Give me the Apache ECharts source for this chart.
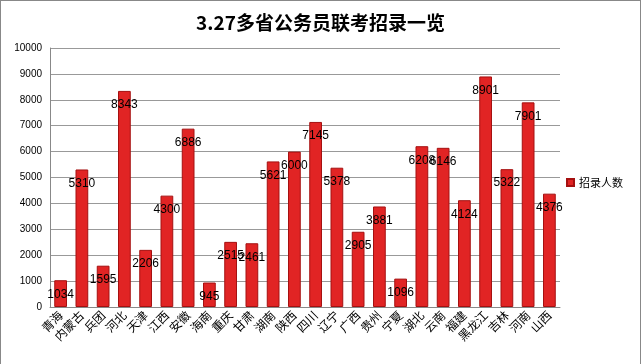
<!DOCTYPE html>
<html><head><meta charset="utf-8">
<script src="https://cdn.jsdelivr.net/npm/echarts@6/dist/echarts.min.js"></script>
<style>html,body{margin:0;padding:0;background:#fff}#c{width:641px;height:364px;box-sizing:border-box;border:1px solid #888;border-bottom:none}</style>
</head><body><div id="c"></div>
<script>
const categories = ['青海','内蒙古','兵团','河北','天津','江西','安徽','海南','重庆','甘肃','湖南','陕西','四川','辽宁','广西','贵州','宁夏','湖北','云南','福建','黑龙江','吉林','河南','山西'];
const values = [1034,5310,1595,8343,2206,4300,6886,945,2515,2461,5621,6000,7145,5378,2905,3881,1096,6208,6146,4124,8901,5322,7901,4376];
const seriesName = '招录人数';
const titleText = '3.27多省公务员联考招录一览';
const chart = echarts.init(document.getElementById('c'));
chart.setOption({
  animation:false,
  title:{text:titleText,left:'center',top:7,textStyle:{fontSize:19,fontWeight:'bold',color:'#000',fontFamily:'Noto Sans CJK SC'}},
  legend:{orient:'vertical',right:12,top:'middle',itemWidth:7,itemHeight:7,itemGap:4,icon:'rect',textStyle:{fontSize:11,color:'#000',fontFamily:'Noto Sans CJK SC'},data:[seriesName]},
  grid:{left:49,right:80,top:47,bottom:57,containLabel:false},
  xAxis:{type:'category',data:categories,axisLine:{lineStyle:{color:'#888'}},axisTick:{show:false},
    axisLabel:{rotate:45,interval:0,fontSize:12,color:'#000',fontFamily:'Noto Sans CJK SC',margin:6}},
  yAxis:{type:'value',min:0,max:10000,interval:1000,axisLine:{show:true,lineStyle:{color:'#888'}},
    axisLabel:{fontSize:10,color:'#000',fontFamily:'Liberation Sans',margin:8,formatter:v=>String(v)},
    splitLine:{lineStyle:{color:'#999'}}},
  series:[{name:seriesName,type:'bar',data:values,barCategoryGap:'40%',
    itemStyle:{color:'#e12424',borderColor:'#a51010',borderWidth:1},
    label:{show:true,position:'insideTop',offset:[0,3],fontSize:12,color:'#000',fontFamily:'Liberation Sans'}}]
});
</script></body></html>
